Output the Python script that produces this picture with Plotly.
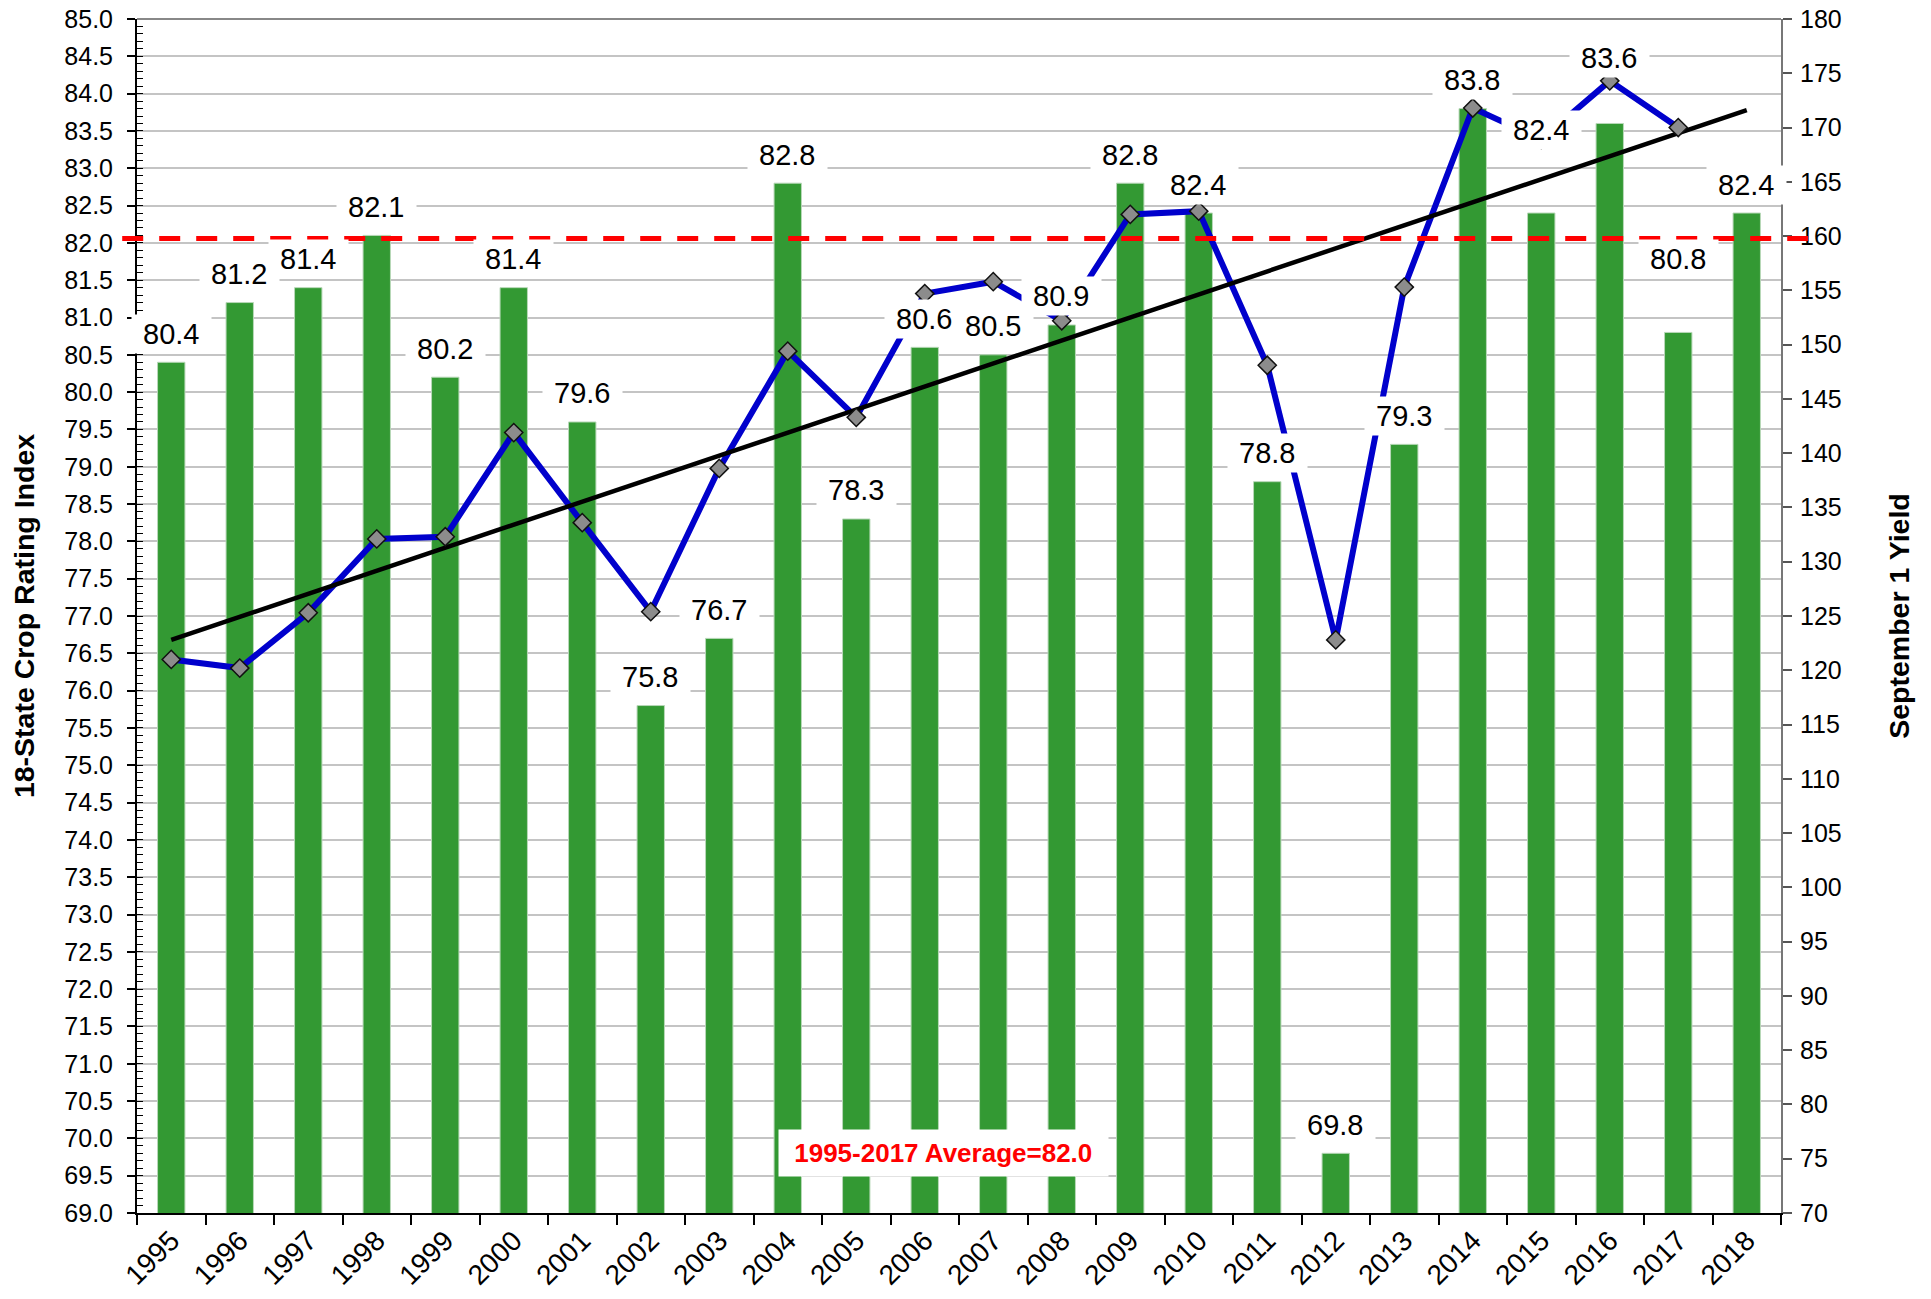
import plotly.graph_objects as go

# ---------------- data ----------------
years = [str(y) for y in range(1995, 2019)]
crop_rating = [80.4, 81.2, 81.4, 82.1, 80.2, 81.4, 79.6, 75.8, 76.7, 82.8, 78.3, 80.6,
               80.5, 80.9, 82.8, 82.4, 78.8, 69.8, 79.3, 83.8, 82.4, 83.6, 80.8, 82.4]
yield_years = [str(y) for y in range(1995, 2018)]
sept1_yield = [121.0, 120.2, 125.3, 132.1, 132.3, 141.9, 133.6, 125.4, 138.6, 149.4, 143.3,
               154.7, 155.8, 152.2, 162.0, 162.3, 148.1, 122.8, 155.3, 171.8, 168.9, 174.3, 170.0]
trend_years = ["1995", "2018"]
trend_values = [122.8, 171.6]
average_value = 82.06
average_text = "1995-2017 Average=82.0"
left_ticks = [69.0 + 0.5 * i for i in range(33)]
right_ticks = list(range(70, 185, 5))

# label offsets (pixels above bar top) - layout only
label_offsets = {"2015": 83, "2016": 65, "2017": 73}
default_offset = 28.5

FONT = "Arial, Liberation Sans, sans-serif"
GREEN = "#339933"
BLUE = "#0000CC"

W, H = 1931, 1299

fig = go.Figure()

fig.add_trace(go.Bar(
    x=years, y=crop_rating, yaxis="y",
    marker=dict(color=GREEN, line=dict(color="#b8d8b8", width=1)),
    showlegend=False, hoverinfo="x+y",
))

fig.add_trace(go.Scatter(
    x=yield_years, y=sept1_yield, yaxis="y2", mode="lines",
    line=dict(color=BLUE, width=6), showlegend=False,
))

fig.add_trace(go.Scatter(
    x=trend_years, y=trend_values, yaxis="y2", mode="lines",
    line=dict(color="black", width=4.5), showlegend=False,
))

fig.add_trace(go.Scatter(
    x=yield_years, y=sept1_yield, yaxis="y2", mode="markers",
    marker=dict(symbol="diamond", size=14, color="#8c8c8c",
                line=dict(color="#111111", width=1.5)),
    showlegend=False,
))

annotations = []
NB = "\u00a0"
for i, (yr, v) in enumerate(zip(years, crop_rating)):
    annotations.append(dict(
        x=i, y=v, xref="x", yref="y",
        text=f"{NB}{v:.1f}{NB}", showarrow=False,
        yanchor="middle", xanchor="center",
        yshift=label_offsets.get(yr, default_offset),
        bgcolor="white", borderpad=3,
        font=dict(family=FONT, size=29, color="black"),
    ))

annotations.append(dict(
    x=0.4906, y=69.80, xref="paper", yref="y",
    text=f"{NB}<b>{average_text}</b>{NB}", showarrow=False,
    xanchor="center", yanchor="middle",
    bgcolor="white", borderpad=8,
    font=dict(family=FONT, size=26, color="#ff0000"),
))

fig.update_layout(
    width=W, height=H,
    margin=dict(l=137, r=150, t=19, b=86, autoexpand=False),
    paper_bgcolor="white", plot_bgcolor="white",
    bargap=0.6,
    font=dict(family=FONT, size=25, color="black"),
    annotations=annotations,
    xaxis=dict(
        type="category", tickson="boundaries", ticks="outside", ticklen=10,
        tickcolor="black", tickwidth=1.5, showline=True, linecolor="black", linewidth=2,
        tickangle=-45, tickfont=dict(size=28), showgrid=False,
        ticklabeloverflow="allow", ticklabelstandoff=-2,
        range=[-0.5, 23.5],
    ),
    yaxis=dict(
        range=[69, 85], tickvals=left_ticks, ticktext=[f"{t:.1f}" for t in left_ticks],
        ticks="outside", ticklen=8, tickcolor="black", tickwidth=1.5,
        ticklabelstandoff=9, ticklabeloverflow="allow",
        showline=True, linecolor="black", linewidth=2,
        showgrid=True, gridcolor="#c4c4c4", gridwidth=1.5,
        minor=dict(dtick=0.1, tick0=69, ticks="inside", ticklen=6, tickcolor="black",
                   tickwidth=1, showgrid=False),
        tickfont=dict(size=25), zeroline=False,
        title=dict(text="<b>18-State Crop Rating Index</b>", font=dict(size=28.5), standoff=21),
    ),
    yaxis2=dict(
        range=[70, 180], overlaying="y", side="right", tickvals=right_ticks,
        ticks="outside", ticklen=9, tickcolor="#555555", tickwidth=1.5,
        ticklabelstandoff=3, ticklabeloverflow="allow",
        showline=True, linecolor="#777777", linewidth=2, showgrid=False,
        tickfont=dict(size=25), zeroline=False,
        title=dict(text="<b>September 1 Yield</b>", font=dict(size=28.5), standoff=48),
    ),
    shapes=[
        dict(type="line", xref="paper", yref="paper", x0=0, x1=1, y0=1, y1=1,
             line=dict(color="#888888", width=2), layer="above"),
        dict(type="line", xref="paper", yref="y", x0=-0.009, x1=1.0255,
             y0=average_value, y1=average_value,
             line=dict(color="#ff0000", width=5, dash="21px,16px"), layer="above"),
    ],
)

# remove the default 8px page margin so the 1931x1299 figure fills the window
fig.write_html(
    "out.html",
    config={"displayModeBar": False},
    post_script="document.body.style.margin='0';document.body.style.overflow='hidden';",
)
